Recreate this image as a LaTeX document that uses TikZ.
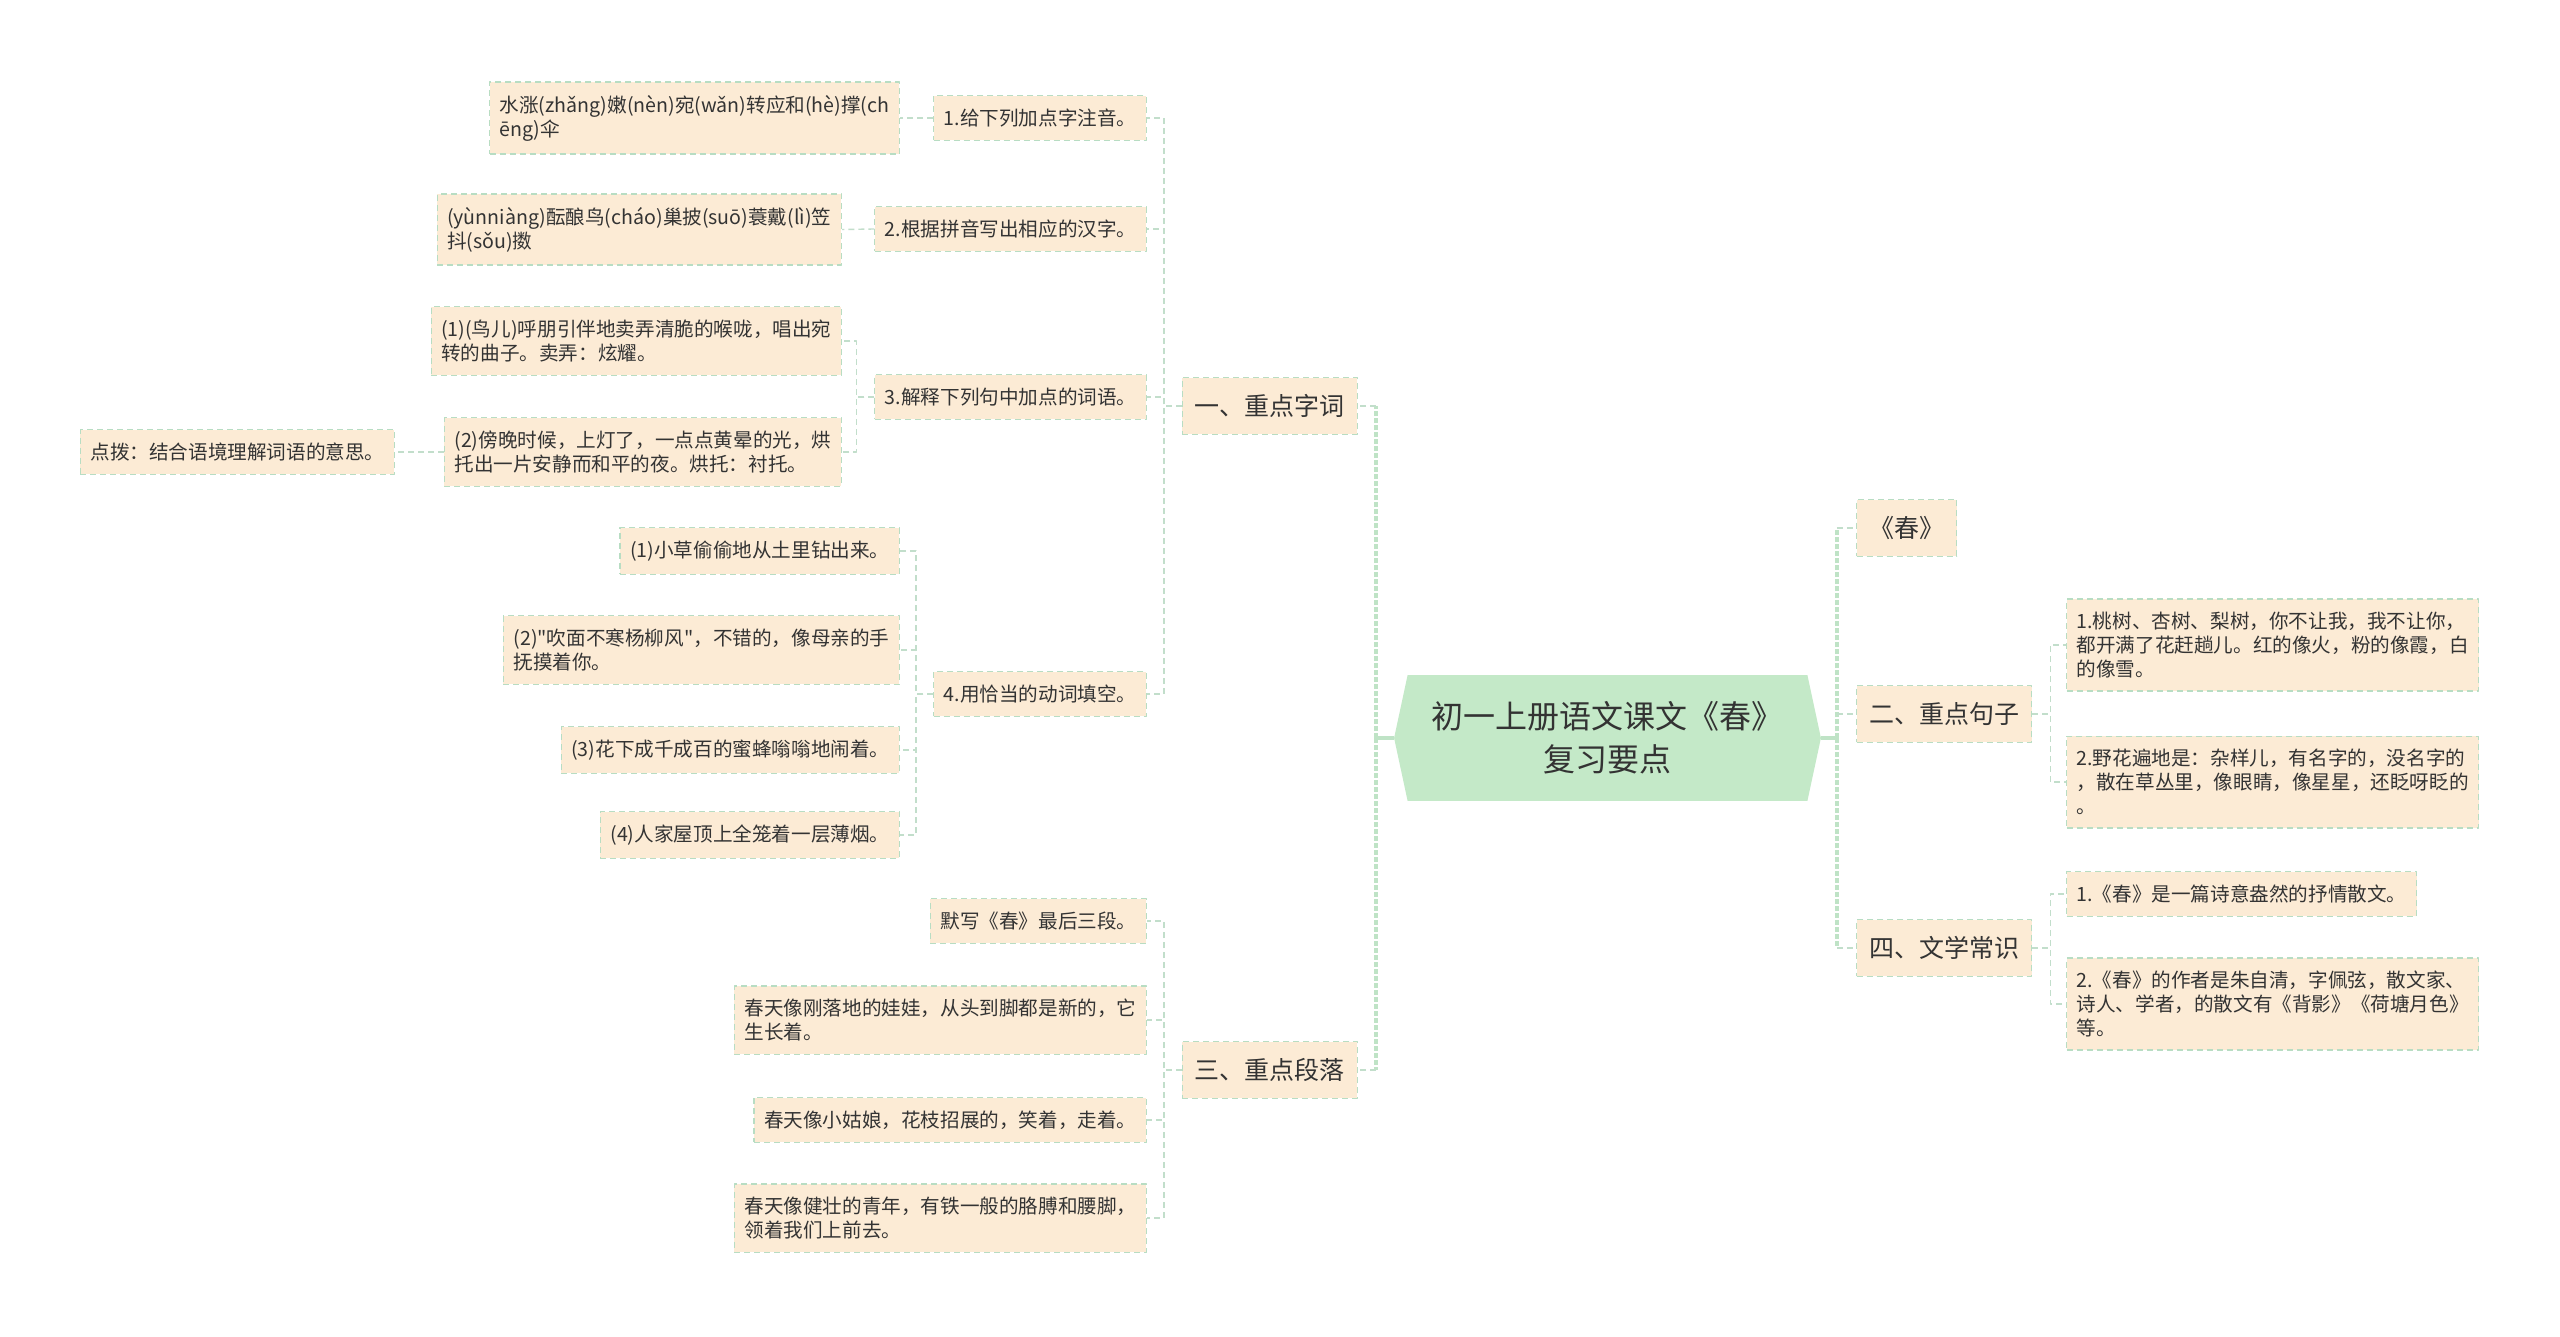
\documentclass[tikz,border=0pt]{standalone}
\usepackage{fontspec}
\newfontfamily\cjk{Noto Sans CJK SC}
\usepackage{tikz}
\usetikzlibrary{backgrounds}
\definecolor{leaffill}{HTML}{FCEBD5}
\definecolor{leafline}{HTML}{B8DDC3}
\definecolor{twigcol}{HTML}{C2DECB}
\definecolor{rootfill}{HTML}{C4E9C8}
\definecolor{trunkcol}{HTML}{BFE3C6}
\definecolor{inkcol}{HTML}{333333}
\begin{document}
\begin{tikzpicture}[x=0.5pt,y=-0.5pt,line join=round,
  leaf/.style={draw=leafline,dash pattern=on 3pt off 2pt,line width=0.6pt,fill=leaffill,
    text=inkcol,font=\cjk\fontsize{9.8}{12}\selectfont,align=left,inner xsep=5pt,inner ysep=6.5pt},
  topic/.style={leaf,font=\cjk\fontsize{12.5}{15}\selectfont,inner xsep=6.25pt,inner ysep=8.4pt},
  twig/.style={twigcol,line width=0.7pt,dash pattern=on 3pt off 2pt},
  trunk/.style={trunkcol,line width=2pt},
  trunkdash/.style={trunk,dash pattern=on 2.5pt off 1pt}]
  \useasboundingbox (0,0) rectangle (2560,1337);

  \node[text=inkcol,font=\cjk\fontsize{16}{21.5}\selectfont,align=center,
    minimum width=199.5pt,minimum height=62.5pt] (root) at (1607.5,738)
    {初一上册语文课文《春》\\复习要点};
  \begin{scope}[on background layer]
    \fill[white] (0,0) rectangle (2560,1337);
    \fill[rootfill] (root.north west) -- (root.north east) -- ([xshift=6.75pt]root.east)
      -- (root.south east) -- (root.south west) -- ([xshift=-6.75pt]root.west) -- cycle;
  \end{scope}

  \node[topic,anchor=east] (w1) at (1358,406) {一、重点字词};
  \node[topic,anchor=east] (w3) at (1358,1070) {三、重点段落};
  \node[topic,anchor=west] (w0) at (1856,528) {《春》};
  \node[topic,anchor=west] (w2) at (1856,714) {二、重点句子};
  \node[topic,anchor=west] (w4) at (1856,948) {四、文学常识};

  \node[leaf,anchor=east] (a1) at (1147,118) {1.给下列加点字注音。};
  \node[leaf,anchor=east] (a2) at (1147,229) {2.根据拼音写出相应的汉字。};
  \node[leaf,anchor=east] (a3) at (1147,397) {3.解释下列句中加点的词语。};
  \node[leaf,anchor=east] (a4) at (1147,694) {4.用恰当的动词填空。};
  \node[leaf,anchor=east] (b1) at (900,118) {水涨(zhǎng)嫩(nèn)宛(wǎn)转应和(hè)撑(ch\\ēng)伞};
  \node[leaf,anchor=east] (b2) at (842,229.5) {(yùnniàng)酝酿鸟(cháo)巢披(suō)蓑戴(lì)笠\\抖(sǒu)擞};
  \node[leaf,anchor=east] (c1) at (842,341) {(1)(鸟儿)呼朋引伴地卖弄清脆的喉咙，唱出宛\\转的曲子。卖弄：炫耀。};
  \node[leaf,anchor=east] (c2) at (842,452) {(2)傍晚时候，上灯了，一点点黄晕的光，烘\\托出一片安静而和平的夜。烘托：衬托。};
  \node[leaf,anchor=east] (d1) at (395,452) {点拨：结合语境理解词语的意思。};
  \node[leaf,anchor=east] (e1) at (900,551) {(1)小草偷偷地从土里钻出来。};
  \node[leaf,anchor=east] (e2) at (900,650) {(2)"吹面不寒杨柳风"，不错的，像母亲的手\\抚摸着你。};
  \node[leaf,anchor=east] (e3) at (900,750) {(3)花下成千成百的蜜蜂嗡嗡地闹着。};
  \node[leaf,anchor=east] (e4) at (900,835) {(4)人家屋顶上全笼着一层薄烟。};

  \node[leaf,anchor=east] (f1) at (1147,921) {默写《春》最后三段。};
  \node[leaf,anchor=east] (f2) at (1147,1020) {春天像刚落地的娃娃，从头到脚都是新的，它\\生长着。};
  \node[leaf,anchor=east] (f3) at (1147,1120) {春天像小姑娘，花枝招展的，笑着，走着。};
  \node[leaf,anchor=east] (f4) at (1147,1218) {春天像健壮的青年，有铁一般的胳膊和腰脚，\\领着我们上前去。};

  \node[leaf,anchor=west] (g1) at (2066,645) {1.桃树、杏树、梨树，你不让我，我不让你，\\都开满了花赶趟儿。红的像火，粉的像霞，白\\的像雪。};
  \node[leaf,anchor=west] (g2) at (2066,782) {2.野花遍地是：杂样儿，有名字的，没名字的\\，散在草丛里，像眼睛，像星星，还眨呀眨的\\。};
  \node[leaf,anchor=west] (h1) at (2066,894) {1.《春》是一篇诗意盎然的抒情散文。};
  \node[leaf,anchor=west] (h2) at (2066,1004) {2.《春》的作者是朱自清，字佩弦，散文家、\\诗人、学者，的散文有《背影》《荷塘月色》\\等。};

  \coordinate (tipL) at ([xshift=-6.75pt]root.west);
  \coordinate (tipR) at ([xshift=6.75pt]root.east);
  \draw[trunk] (tipL) -- ++(-18,0) coordinate (spL);
  \draw[trunk] (tipR) -- ++(16,0) coordinate (spR);
  \foreach \n in {w1,w3} {
    \draw[trunkdash] (spL) -- (spL |- \n.east);
    \draw[twig] (spL |- \n.east) -- (\n.east);}
  \foreach \n in {w0,w2,w4} {
    \draw[trunkdash] (spR) -- (spR |- \n.west);
    \draw[twig] (spR |- \n.west) -- (\n.west);}

  \foreach \c in {a1,a2,a3,a4} \draw[twig] (w1.west) -- ++(-18,0) |- (\c.east);
  \foreach \c in {f1,f2,f3,f4} \draw[twig] (w3.west) -- ++(-18,0) |- (\c.east);
  \draw[twig] (a1.west) -- (b1.east);
  \draw[twig] (a2.west) -- (b2.east);
  \foreach \c in {c1,c2} \draw[twig] (a3.west) -- ++(-18,0) |- (\c.east);
  \draw[twig] (c2.west) -- (d1.east);
  \foreach \c in {e1,e2,e3,e4} \draw[twig] (a4.west) -- ++(-17,0) |- (\c.east);
  \foreach \c in {g1,g2} \draw[twig] (w2.east) -- ++(18,0) |- (\c.west);
  \foreach \c in {h1,h2} \draw[twig] (w4.east) -- ++(18,0) |- (\c.west);
\end{tikzpicture}
\end{document}
